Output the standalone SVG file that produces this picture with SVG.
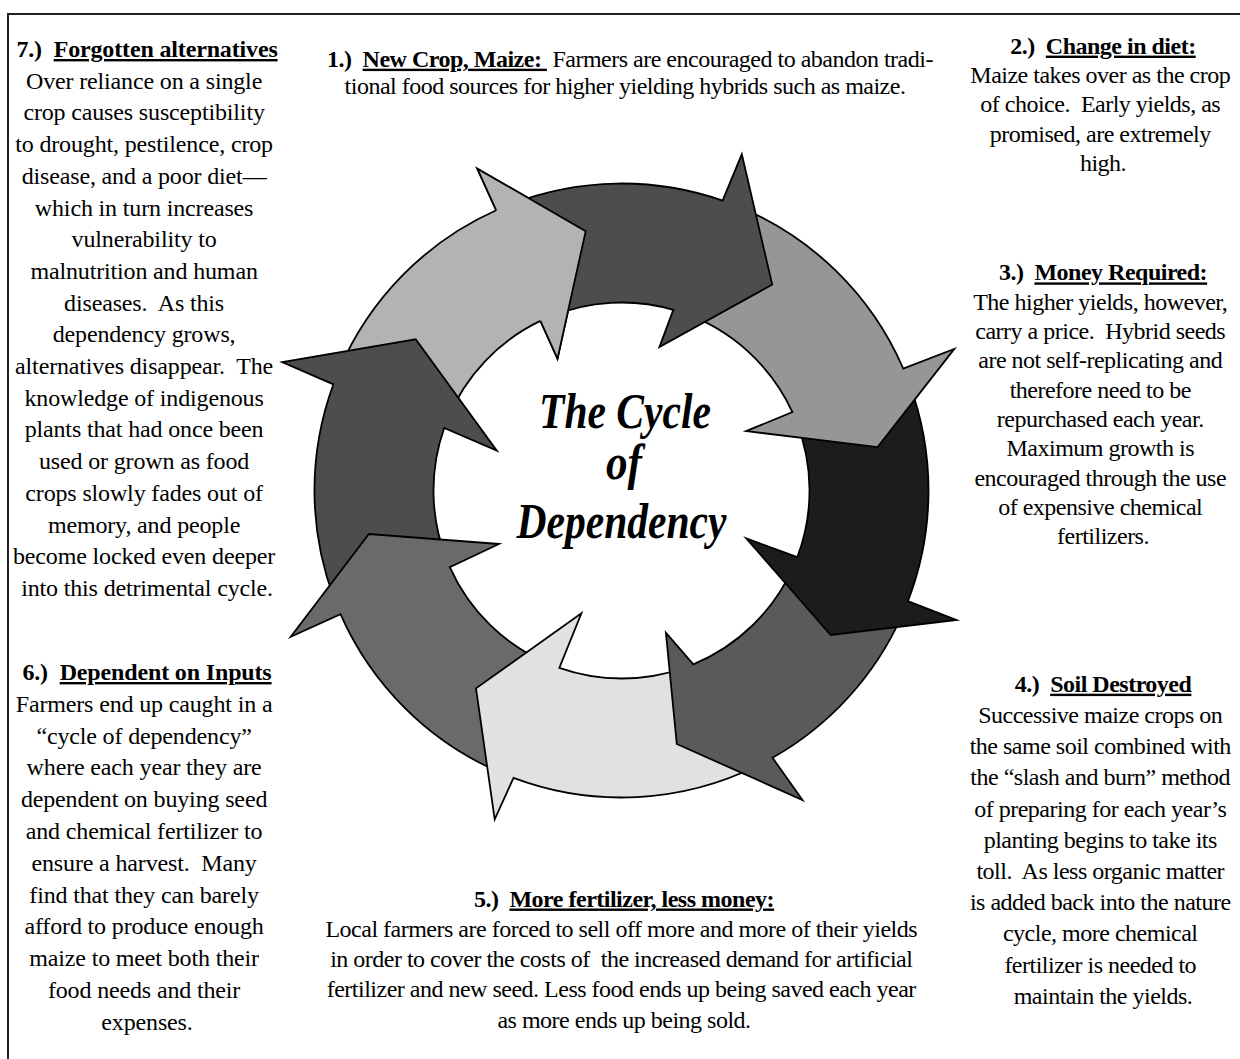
<svg xmlns="http://www.w3.org/2000/svg" width="1240" height="1059" viewBox="0 0 1240 1059">
<defs>
<style>
.arrow{stroke:#000;stroke-width:1.8;stroke-linejoin:miter;stroke-miterlimit:10}
.t{font-family:"Liberation Serif","Times New Roman",serif;font-size:24px;fill:#000;text-anchor:middle}
.l{letter-spacing:-0.15px}
.r{letter-spacing:-0.5px}
.hd{font-weight:bold}
.title{font-family:"Liberation Serif","Times New Roman",serif;font-weight:bold;font-style:italic;font-size:50px;fill:#000;text-anchor:middle}
</style>
</defs>
<rect width="1240" height="1059" fill="#fff"/>
<path id="frame" d="M8 1059 V14 H1240" fill="none" stroke="#222" stroke-width="2"/>

<g id="cycle-arrows" class="arrow">
<path id="arrow-a" fill="#b3b3b3" d="M339.3,369.6 A307,307 0 0 1 496.2,210.3 L477.3,168.6 L585.7,231.1 L557.5,358.6 L540.4,320.9 A188,188 0 0 0 447.7,418.9 Z"/>
<path id="arrow-h" fill="#4d4d4d" d="M334.4,599.3 A307,307 0 0 1 333.4,384.3 L282.2,362.1 L415.7,339.3 L496.8,450.7 L444.2,428.0 A188,188 0 0 0 446.0,558.0 Z"/>
<path id="arrow-g" fill="#6a6a6a" d="M498.6,771.8 A307,307 0 0 1 340.5,614.1 L290.8,636.7 L368.9,534 L499.0,544 L449.8,567.1 A188,188 0 0 0 550.1,664.4 Z"/>
<path id="arrow-f" fill="#e1e1e1" d="M758.3,765.3 A307,307 0 0 1 513.5,777.9 L494.7,819.3 L476.0,688.3 L581.4,613.3 L559.3,667.9 A188,188 0 0 0 684.1,667.8 Z"/>
<path id="arrow-e" fill="#5a5a5a" d="M901.7,616.0 A307,307 0 0 1 772.5,757.8 L802.5,800 L676.8,744 L665.9,632.7 L693.3,664.3 A188,188 0 0 0 793.6,566.3 Z"/>
<path id="arrow-d" fill="#1c1c1c" d="M909.2,383.4 A307,307 0 0 1 907.9,601.2 L956.5,620 L830.7,635 L746.2,538.3 L797.3,557.2 A188,188 0 0 0 796.2,421.1 Z"/>
<path id="arrow-c" fill="#969696" d="M737.6,206.3 A307,307 0 0 1 903.2,368.5 L954.3,348.9 L877.6,447.1 L746.2,431.1 L792.4,412.1 A188,188 0 0 0 682.6,312.7 Z"/>
<path id="arrow-b" fill="#4d4d4d" d="M511.0,204.1 A307,307 0 0 1 722.6,200.6 L741.8,154.3 L772.2,284.6 L659.4,347.1 L673.3,309.8 A188,188 0 0 0 549.4,316.9 Z"/>
<path id="arrow-a-head" fill="#b3b3b3" d="M496.2,210.3 L477.3,168.6 L585.7,231.1 L557.5,358.6 L540.4,320.9"/>
</g>

<g id="title">
<text class="title" x="625" y="427.5" textLength="172" lengthAdjust="spacingAndGlyphs">The Cycle</text>
<text class="title" x="624" y="479.3" textLength="36" lengthAdjust="spacingAndGlyphs">of</text>
<text class="title" x="621.5" y="538.2" textLength="210" lengthAdjust="spacingAndGlyphs">Dependency</text>
</g>

<g id="step-1">
<text class="t r" x="630" y="66.7"><tspan class="hd">1.)&#160; <tspan text-decoration="underline">New Crop, Maize:&#160;</tspan></tspan>&#160;Farmers are encouraged to abandon tradi-</text>
<text class="t r" x="625" y="94">tional food sources for higher yielding hybrids such as maize.</text>
</g>

<g id="step-2">
<text class="t r hd" x="1103" y="53.6">2.)&#160; <tspan text-decoration="underline">Change in diet:</tspan></text>
<text class="t r">
<tspan x="1103" y="82.9">Maize takes over as the crop</tspan>
<tspan x="1103" y="112.2">of choice.&#160; Early yields, as</tspan>
<tspan x="1103" y="141.5">promised, are extremely</tspan>
<tspan x="1103" y="170.8">high.</tspan>
</text>
</g>

<g id="step-3">
<text class="t r hd" x="1103" y="280.4">3.)&#160; <tspan text-decoration="underline">Money Required:</tspan></text>
<text class="t r">
<tspan x="1103" y="309.7">The higher yields, however,</tspan>
<tspan x="1103" y="339">carry a price.&#160; Hybrid seeds</tspan>
<tspan x="1103" y="368.3">are not self-replicating and</tspan>
<tspan x="1103" y="397.6">therefore need to be</tspan>
<tspan x="1103" y="426.9">repurchased each year.</tspan>
<tspan x="1103" y="456.2">Maximum growth is</tspan>
<tspan x="1103" y="485.5">encouraged through the use</tspan>
<tspan x="1103" y="514.8">of expensive chemical</tspan>
<tspan x="1103" y="544.1">fertilizers.</tspan>
</text>
</g>

<g id="step-4">
<text class="t r hd" x="1103" y="691.7">4.)&#160; <tspan text-decoration="underline">Soil Destroyed</tspan></text>
<text class="t r">
<tspan x="1103" y="722.9">Successive maize crops on</tspan>
<tspan x="1103" y="754.1">the same soil combined with</tspan>
<tspan x="1103" y="785.3">the “slash and burn” method</tspan>
<tspan x="1103" y="816.5">of preparing for each year’s</tspan>
<tspan x="1103" y="847.7">planting begins to take its</tspan>
<tspan x="1103" y="878.9">toll.&#160; As less organic matter</tspan>
<tspan x="1103" y="910.1">is added back into the nature</tspan>
<tspan x="1103" y="941.3">cycle, more chemical</tspan>
<tspan x="1103" y="972.5">fertilizer is needed to</tspan>
<tspan x="1103" y="1003.7">maintain the yields.</tspan>
</text>
</g>

<g id="step-5">
<text class="t r hd" x="624" y="906.5">5.)&#160; <tspan text-decoration="underline">More fertilizer, less money:</tspan></text>
<text class="t r">
<tspan x="624" y="936.5">Local farmers are forced to sell off more and more of their yields</tspan>
<tspan x="624" y="966.5">in order to cover the costs of&#160; the increased demand for artificial</tspan>
<tspan x="624" y="997">fertilizer and new seed. Less food ends up being saved each year</tspan>
<tspan x="624" y="1028">as more ends up being sold.</tspan>
</text>
</g>

<g id="step-6">
<text class="t l hd" x="147" y="680">6.)&#160; <tspan text-decoration="underline">Dependent on Inputs</tspan></text>
<text class="t l">
<tspan x="147" y="711.8">Farmers end up caught in a</tspan>
<tspan x="147" y="743.6">“cycle of dependency”</tspan>
<tspan x="147" y="775.4">where each year they are</tspan>
<tspan x="147" y="807.2">dependent on buying seed</tspan>
<tspan x="147" y="839">and chemical fertilizer to</tspan>
<tspan x="147" y="870.8">ensure a harvest.&#160; Many</tspan>
<tspan x="147" y="902.6">find that they can barely</tspan>
<tspan x="147" y="934.4">afford to produce enough</tspan>
<tspan x="147" y="966.2">maize to meet both their</tspan>
<tspan x="147" y="998">food needs and their</tspan>
<tspan x="147" y="1029.8">expenses.</tspan>
</text>
</g>

<g id="step-7">
<text class="t l hd" x="147" y="57">7.)&#160; <tspan text-decoration="underline">Forgotten alternatives</tspan></text>
<text class="t l">
<tspan x="147" y="88.7">Over reliance on a single</tspan>
<tspan x="147" y="120.4">crop causes susceptibility</tspan>
<tspan x="147" y="152.1">to drought, pestilence, crop</tspan>
<tspan x="147" y="183.8">disease, and a poor diet—</tspan>
<tspan x="147" y="215.5">which in turn increases</tspan>
<tspan x="147" y="247.2">vulnerability to</tspan>
<tspan x="147" y="278.9">malnutrition and human</tspan>
<tspan x="147" y="310.6">diseases.&#160; As this</tspan>
<tspan x="147" y="342.3">dependency grows,</tspan>
<tspan x="147" y="374">alternatives disappear.&#160; The</tspan>
<tspan x="147" y="405.7">knowledge of indigenous</tspan>
<tspan x="147" y="437.4">plants that had once been</tspan>
<tspan x="147" y="469.1">used or grown as food</tspan>
<tspan x="147" y="500.8">crops slowly fades out of</tspan>
<tspan x="147" y="532.5">memory, and people</tspan>
<tspan x="147" y="564.2">become locked even deeper</tspan>
<tspan x="147" y="595.9">into this detrimental cycle.</tspan>
</text>
</g>
</svg>
